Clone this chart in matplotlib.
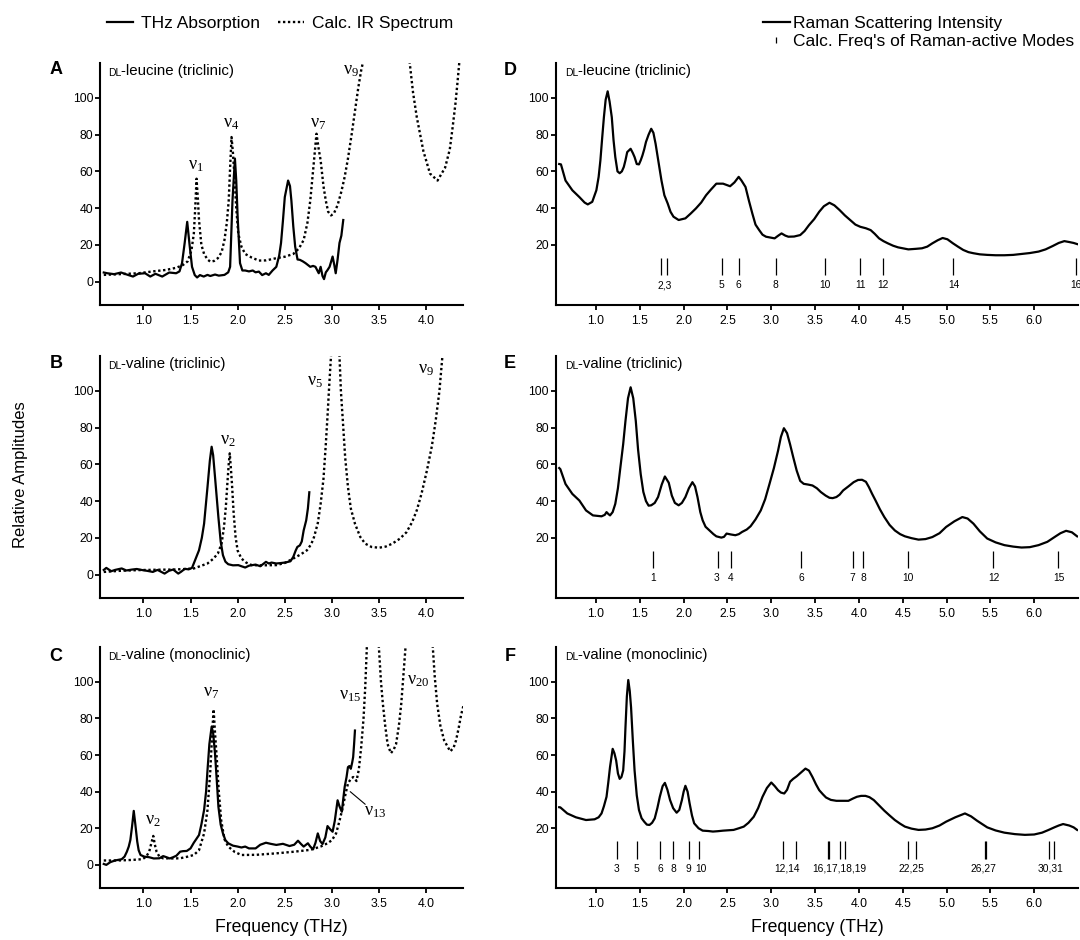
import numpy as np
import matplotlib
matplotlib.use("Agg")
import matplotlib.pyplot as plt
from matplotlib.lines import Line2D

nan = float("nan")

# --- panel A: DL-leucine (triclinic), THz absorption + calc. IR ---------------
A_THZ_X = [0.58, 0.617, 0.69, 0.763, 0.836, 0.89, 0.945, 1.018, 1.073, 1.128,
           1.2, 1.274, 1.347, 1.383, 1.41, 1.438, 1.465, 1.49, 1.516, 1.545,
           1.57, 1.60, 1.64, 1.68, 1.71, 1.76, 1.80, 1.86, 1.90, 1.92,
           1.945, 1.971, 1.985, 2.0, 2.025, 2.05, 2.08, 2.12, 2.16, 2.19,
           2.225, 2.26, 2.30, 2.33, 2.37, 2.41, 2.44, 2.46, 2.48, 2.50,
           2.535, 2.555, 2.57, 2.59, 2.61, 2.635, 2.66, 2.69, 2.72, 2.745,
           2.77, 2.80, 2.825, 2.845, 2.86, 2.88, 2.90, 2.916, 2.935, 2.95,
           2.975, 3.007, 3.025, 3.04, 3.06, 3.08, 3.10, 3.12]
A_THZ_Y = [4.9, 4.5, 4.0, 4.9, 3.6, 2.7, 4.2, 4.5, 2.7, 4.2,
           2.7, 4.9, 4.5, 5.5, 10, 21, 32.5, 20, 8, 3.5,
           2.2, 3.5, 2.7, 3.6, 3.0, 3.8, 3.2, 3.6, 5, 8,
           44, 67, 55, 35, 10, 6, 6, 5.5, 6, 5,
           5.4, 3.5, 4.5, 3.6, 6, 8, 14, 21, 33, 46,
           55, 52, 44, 30, 19, 12, 11.8, 11, 10, 9,
           8, 8.5, 8, 6, 4.5, 8, 3, 1.3, 5, 6,
           8, 13.6, 9, 4.5, 12, 21, 25, 33.5]
A_IR_X = [0.58, 0.75, 0.95, 1.10, 1.24, 1.35, 1.42, 1.47, 1.51, 1.535,
          1.55, 1.564, 1.578, 1.59, 1.615, 1.644, 1.68, 1.71, 1.75, 1.79,
          1.83, 1.86, 1.885, 1.905, 1.92, 1.935, 1.95, 1.964, 1.985, 2.007,
          2.04, 2.08, 2.15, 2.225, 2.30, 2.41, 2.50, 2.59, 2.65, 2.70,
          2.74, 2.77, 2.79, 2.81, 2.836, 2.86, 2.88, 2.91, 2.935, 2.96,
          2.99, 3.02, 3.06, 3.10, 3.135, 3.17, 3.21, 3.25, 3.28, 3.31,
          3.34, 3.36, nan, 3.80, 3.825, 3.86, 3.90, 3.97, 4.04, 4.12,
          4.2, 4.25, 4.28, 4.31, 4.33, 4.35, 4.37]
A_IR_Y = [3.6, 4.0, 4.5, 5.5, 6.3, 7.5, 9, 11, 17, 26,
          40, 56, 45, 33.5, 20, 15, 12, 10.8, 11.2, 12.7,
          16, 22.6, 32, 44, 62, 78.7, 70, 59, 40, 26,
          19, 15, 13, 11.4, 11.5, 12.7, 13.5, 15, 18, 22.6,
          32, 44, 55, 66, 80.5, 72, 66, 52, 44, 38,
          36, 37, 41.6, 49, 57, 67, 80.5, 95, 105.8, 115,
          122, 128, nan, 128, 119, 103, 89.5, 71, 58.8, 55,
          62, 72, 84, 97, 107.6, 119, 128]

# --- panel B: DL-valine (triclinic) -------------------------------------------
B_THZ_X = [0.58, 0.607, 0.66, 0.70, 0.77, 0.82, 0.88, 0.93, 0.99, 1.04,
           1.10, 1.15, 1.225, 1.27, 1.316, 1.37, 1.40, 1.44, 1.48, 1.516,
           1.55, 1.59, 1.62, 1.644, 1.68, 1.705, 1.724, 1.74, 1.76, 1.796,
           1.82, 1.844, 1.87, 1.90, 1.95, 2.007, 2.04, 2.08, 2.12, 2.19,
           2.24, 2.30, 2.33, 2.36, 2.41, 2.45, 2.50, 2.535, 2.56, 2.59,
           2.615, 2.633, 2.66, 2.68, 2.70, 2.727, 2.745, 2.76]
B_THZ_Y = [2.5, 3.6, 1.8, 2.5, 3.3, 2.2, 2.7, 3.0, 2.4, 2.0,
           1.4, 2.5, 0.5, 2.0, 2.7, 0.5, 1.5, 3.1, 2.8, 3.6,
           8, 13.2, 20, 27.7, 47.6, 62, 69.6, 65, 53, 31,
           18, 10.5, 7, 5.6, 5.0, 5.1, 4.5, 3.8, 4.8, 5.4,
           4.5, 6.9, 6, 6.5, 6.0, 6.2, 6.5, 6.9, 7.2, 9.6,
           13, 15, 15.9, 18, 24, 29.5, 36, 44.8]
B_IR_X = [0.58, 0.75, 0.95, 1.15, 1.316, 1.45, 1.535, 1.60, 1.68, 1.74,
          1.79, 1.83, 1.855, 1.875, 1.89, 1.905, 1.916, 1.928, 1.94, 1.958,
          1.978, 2.0, 2.04, 2.09, 2.15, 2.25, 2.41, 2.50, 2.59, 2.67,
          2.735, 2.78, 2.81, 2.85, 2.88, 2.91, 2.935, 2.955, 2.97, 2.99,
          3.00, nan, 3.07, 3.08, 3.095, 3.116, 3.14, 3.17, 3.20, 3.244,
          3.30, 3.353, 3.42, 3.50, 3.57, 3.64, 3.72, 3.79, 3.85, 3.90,
          3.95, 4.007, 4.06, 4.10, 4.14, 4.17, 4.19]
B_IR_Y = [1.4, 2.0, 2.4, 2.6, 2.7, 3.0, 3.3, 4.5, 6, 8.5,
          11.4, 17, 25.9, 37, 49, 60, 66, 58, 49, 33,
          20.4, 13, 8.7, 6.5, 5.1, 5.0, 5.1, 6.3, 8.7, 11,
          13.2, 16.5, 20.4, 28, 38.5, 52, 71, 88, 102, 119,
          128, nan, 128, 119, 100, 83.4, 64, 47.6, 36, 27.7,
          20.5, 16.8, 15, 14.6, 15.2, 16.8, 19.5, 23, 28.5, 35,
          44, 56.6, 70, 83.7, 100, 118, 128]

# --- panel C: DL-valine (monoclinic) ------------------------------------------
C_THZ_X = [0.58, 0.607, 0.65, 0.70, 0.77, 0.80, 0.825, 0.845, 0.862, 0.88,
           0.898, 0.915, 0.935, 0.95, 0.97, 1.01, 1.06, 1.11, 1.17, 1.21,
           1.244, 1.28, 1.316, 1.35, 1.39, 1.42, 1.46, 1.50, 1.535, 1.56,
           1.59, 1.615, 1.644, 1.665, 1.68, 1.70, 1.724, 1.74, 1.76, 1.78,
           1.796, 1.82, 1.844, 1.87, 1.90, 1.95, 2.0, 2.04, 2.08, 2.12,
           2.19, 2.24, 2.30, 2.35, 2.41, 2.48, 2.55, 2.60, 2.64, 2.67,
           2.70, 2.745, 2.77, 2.80, 2.825, 2.85, 2.875, 2.90, 2.93, 2.953,
           2.98, 3.007, 3.03, 3.06, 3.08, 3.105, 3.12, 3.135, 3.155, 3.17,
           3.185, 3.20, 3.215, 3.225, 3.235, 3.244]
C_THZ_Y = [0.5, 0.0, 1.5, 2.4, 3.1, 4.5, 7.2, 10, 13.6, 21,
           29.5, 22, 12.7, 8, 5.4, 4.5, 4.2, 3.5, 3.6, 4.8,
           4.2, 3.5, 4.2, 5, 7.2, 7.5, 7.6, 9, 12.1, 14,
           16.3, 22, 30, 40, 51.6, 66, 75.5, 72, 60.7, 45,
           31.7, 22, 17.2, 13.5, 11.8, 10.5, 10, 9.5, 10, 9,
           9, 11, 12.1, 11.5, 10.9, 11.5, 10.3, 11, 13.2, 11.5,
           10, 11.8, 10, 8.5, 12, 17.2, 13, 11.4, 15, 21.2,
           19.5, 18.1, 24, 35.3, 32, 29, 36, 42.6, 48, 53.4,
           54, 52.5, 56, 58.9, 66, 73.4]
C_IR_X = [0.58, 0.735, 0.88, 0.99, 1.03, 1.062, 1.085, 1.105, 1.122, 1.14,
          1.17, 1.207, 1.30, 1.39, 1.47, 1.535, 1.59, 1.644, 1.68, 1.71,
          1.73, 1.745, 1.76, 1.78, 1.80, 1.825, 1.86, 1.90, 1.97, 2.04,
          2.20, 2.41, 2.60, 2.77, 2.88, 2.953, 3.00, 3.044, 3.08, 3.116,
          3.145, 3.17, 3.20, 3.225, 3.245, 3.26, 3.285, 3.31, 3.335, 3.353,
          3.37, 3.385, nan, 3.485, 3.498, 3.52, 3.54, 3.565, 3.59, 3.625,
          3.655, 3.68, 3.71, 3.735, 3.76, 3.78, 3.795, nan, 4.055, 4.07,
          4.09, 4.116, 4.15, 4.19, 4.255, 4.29, 4.316, 4.345, 4.37, 4.40]
C_IR_Y = [2.4, 2.4, 2.7, 3.1, 4.5, 7.2, 12, 15.8, 11, 7.2,
          4.5, 3.6, 3.5, 3.6, 4.5, 5.4, 8, 17.2, 30, 51.6,
          72, 85, 72, 57, 40, 24.5, 14, 10, 7, 5.4,
          5.5, 6.3, 7.2, 8.2, 10, 11.8, 13.5, 17.2, 24, 31.7,
          39, 44.4, 47, 48, 47, 45.8, 52, 64.3, 80, 97,
          118.7, 128, nan, 128, 118.7, 100, 88, 76, 66, 61,
          63, 66, 76, 88, 105, 118.7, 128, nan, 128, 118.7,
          103, 88, 76, 68, 62, 64, 68, 75, 82, 88]

# --- panels D-F: Raman scattering intensity -----------------------------------
D_RAMAN_X = [0.58, 0.60, 0.652, 0.73, 0.81, 0.87, 0.906, 0.957, 1.004, 1.03,
             1.05, 1.07, 1.09, 1.11, 1.133, 1.155, 1.18, 1.20, 1.22, 1.245,
             1.27, 1.295, 1.317, 1.336, 1.356, 1.395, 1.42, 1.44, 1.465, 1.49,
             1.51, 1.53, 1.55, 1.57, 1.60, 1.63, 1.655, 1.68, 1.71, 1.747,
             1.78, 1.818, 1.85, 1.884, 1.943, 2.02, 2.08, 2.14, 2.20, 2.256,
             2.31, 2.373, 2.45, 2.53, 2.58, 2.628, 2.66, 2.706, 2.745, 2.784,
             2.82, 2.862, 2.90, 2.94, 3.038, 3.08, 3.117, 3.16, 3.195, 3.26,
             3.33, 3.38, 3.43, 3.49, 3.547, 3.60, 3.664, 3.72, 3.78, 3.84,
             3.90, 3.96, 4.016, 4.08, 4.134, 4.18, 4.23, 4.28, 4.33, 4.39,
             4.447, 4.564, 4.65, 4.72, 4.78, 4.838, 4.90, 4.955, 5.01, 5.073,
             5.13, 5.19, 5.25, 5.307, 5.38, 5.464, 5.56, 5.66, 5.76, 5.855,
             5.95, 6.05, 6.13, 6.21, 6.28, 6.344, 6.40, 6.45, 6.49]
D_RAMAN_Y = [64, 63.8, 55, 49.7, 46, 43, 42, 43.4, 49.7, 57,
             66, 78, 89.5, 99, 103.6, 98, 89.5, 77, 67.8, 60,
             59, 60, 62.4, 66, 70.5, 72.3, 70, 67.8, 64, 63.8,
             66, 68.7, 72, 76, 80, 83.2, 81, 75, 66, 55,
             47, 42.5, 38, 35.3, 33.5, 34.4, 37, 39.8, 43, 47,
             50, 53.3, 53.3, 51.9, 54, 57, 55, 51.5, 44, 37,
             31, 28, 25.5, 24.4, 23.5, 25, 26.2, 25, 24.4, 24.5,
             25.3, 27.5, 30.7, 34, 38, 41, 42.9, 41.5, 38.9, 36,
             33.5, 31, 29.8, 29, 28, 26, 23.5, 22, 20.8, 19.5,
             18.6, 17.5, 17.8, 18.1, 19, 20.8, 22.5, 23.7, 23, 20.8,
             19, 17.2, 16, 15.4, 14.8, 14.5, 14.3, 14.3, 14.5, 15,
             15.5, 16.3, 17.5, 19.3, 21, 22, 21.5, 21, 20.4]
E_RAMAN_X = [0.58, 0.593, 0.652, 0.73, 0.81, 0.886, 0.965, 1.063, 1.10, 1.12,
             1.14, 1.16, 1.19, 1.22, 1.25, 1.278, 1.31, 1.336, 1.365, 1.395,
             1.425, 1.454, 1.48, 1.51, 1.54, 1.57, 1.60, 1.63, 1.67, 1.708,
             1.75, 1.786, 1.83, 1.865, 1.90, 1.943, 1.98, 2.02, 2.06, 2.10,
             2.13, 2.158, 2.19, 2.217, 2.25, 2.295, 2.34, 2.373, 2.43, 2.46,
             2.49, 2.54, 2.59, 2.63, 2.667, 2.72, 2.764, 2.82, 2.88, 2.93,
             2.98, 3.03, 3.077, 3.11, 3.144, 3.18, 3.214, 3.25, 3.29, 3.33,
             3.37, 3.42, 3.47, 3.52, 3.566, 3.62, 3.664, 3.70, 3.743, 3.78,
             3.82, 3.88, 3.94, 3.99, 4.036, 4.08, 4.114, 4.15, 4.19, 4.24,
             4.29, 4.35, 4.41, 4.47, 4.525, 4.60, 4.68, 4.76, 4.838, 4.92,
             4.995, 5.09, 5.18, 5.24, 5.307, 5.38, 5.464, 5.56, 5.66, 5.76,
             5.855, 5.95, 6.05, 6.15, 6.245, 6.30, 6.364, 6.43, 6.49]
E_RAMAN_Y = [58, 57.4, 49.3, 43.9, 40.3, 34.9, 32.2, 31.7, 32.5, 34,
             33, 32.2, 34, 38.5, 47, 58.3, 71, 83.6, 96, 102,
             96, 83.6, 68, 54.7, 45, 40, 37.5, 37.7, 39, 42.2,
             49, 53.4, 50, 43, 39, 37.7, 39, 42.2, 47, 50.3,
             48, 42.2, 34, 29.5, 26, 24, 22, 20.8, 20.1, 20.5,
             22.3, 21.8, 21.4, 22, 23.2, 24.5, 26.3, 30, 34.9, 41,
             49.4, 58, 67.4, 75, 79.7, 77, 71, 64, 56.6, 51,
             49.4, 49, 48.5, 47, 44.9, 43, 41.8, 41.6, 42.2, 43.5,
             45.8, 48, 50.3, 51.5, 51.6, 50.5, 47.6, 44, 40.3, 35.5,
             31.3, 27, 24, 22, 20.8, 19.8, 19, 19.3, 20.4, 22.5,
             25.9, 29, 31.3, 30.5, 27.7, 23.5, 19.6, 17.5, 16, 15.2,
             14.7, 14.9, 16, 17.8, 20.8, 22.5, 23.8, 23, 20.8]
F_RAMAN_X = [0.58, 0.593, 0.672, 0.77, 0.886, 0.984, 1.03, 1.063, 1.09, 1.12,
             1.14, 1.16, 1.19, 1.21, 1.23, 1.25, 1.27, 1.29, 1.31, 1.325,
             1.336, 1.352, 1.368, 1.385, 1.40, 1.42, 1.44, 1.465, 1.49, 1.52,
             1.55, 1.58, 1.61, 1.64, 1.67, 1.70, 1.728, 1.76, 1.786, 1.815,
             1.845, 1.88, 1.92, 1.95, 1.98, 2.00, 2.02, 2.045, 2.068, 2.095,
             2.12, 2.17, 2.217, 2.28, 2.334, 2.39, 2.45, 2.51, 2.57, 2.63,
             2.686, 2.74, 2.80, 2.85, 2.90, 2.95, 3.0, 3.04, 3.077, 3.11,
             3.148, 3.18, 3.214, 3.25, 3.29, 3.34, 3.39, 3.43, 3.47, 3.51,
             3.547, 3.59, 3.625, 3.68, 3.743, 3.81, 3.88, 3.93, 3.977, 4.025,
             4.075, 4.12, 4.17, 4.23, 4.29, 4.35, 4.41, 4.47, 4.525, 4.60,
             4.68, 4.76, 4.838, 4.92, 4.995, 5.10, 5.21, 5.28, 5.346, 5.40,
             5.464, 5.56, 5.66, 5.78, 5.894, 6.0, 6.09, 6.16, 6.23, 6.28,
             6.33, 6.40, 6.45, 6.49]
F_RAMAN_Y = [31.5, 31.4, 28.1, 26, 24.5, 24.9, 26, 28.1, 32, 37.2,
             45, 53.5, 63.4, 61, 57, 50, 47, 48, 51.6, 62,
             75, 92, 101, 95, 86, 68, 51.6, 38, 30, 25.5,
             23.6, 22, 21.8, 23, 25.4, 31, 37.2, 43, 44.8, 41,
             35.4, 31, 28.5, 30, 35.4, 40, 43.2, 40, 33.6, 27,
             22.7, 20, 18.7, 18.5, 18.2, 18.4, 18.7, 18.9, 19.1, 20,
             20.9, 23, 26.3, 31, 37.2, 42, 45, 43, 40.8, 39.5,
             39, 41, 45.4, 47, 48.4, 50.5, 52.6, 51.5, 48, 44,
             40.8, 38.5, 36.8, 35.5, 35, 35, 35, 36.2, 37.2, 37.7,
             37.7, 37, 35.4, 32.5, 29.6, 27, 24.5, 22.5, 20.9, 19.8,
             19.1, 19.3, 20, 21.5, 23.6, 26, 28.1, 26.5, 24.2, 22.5,
             20.5, 18.8, 17.6, 16.8, 16.4, 16.6, 17.6, 19, 20.5, 21.5,
             22.3, 21.5, 20.5, 19.1]

# calculated frequencies of Raman-active modes (THz) and their labels
D_MODES = [1.747, 1.806, 2.432, 2.628, 3.05, 3.61, 4.016, 4.27, 5.073, 6.473]
D_MODE_LABELS = ["2,3", "5", "6", "8", "10", "11", "12", "14", "16"]
D_LABEL_X = [1.778, 2.432, 2.628, 3.05, 3.61, 4.02, 4.275, 5.085, 6.473]
E_MODES = [1.65, 2.393, 2.538, 3.343, 3.93, 4.044, 4.556, 5.534, 6.274]
E_MODE_LABELS = ["1", "3", "4", "6", "7", "8", "10", "12", "15"]
E_LABEL_X = [1.65, 2.38, 2.54, 3.34, 3.92, 4.05, 4.556, 5.542, 6.278]
F_MODES = [1.239, 1.466, 1.73, 1.876, 2.06, 2.174, 3.136, 3.285, 3.645, 3.662,
           3.786, 3.844, 4.556, 4.654, 5.444, 5.452, 6.168, 6.227]
F_MODE_LABELS = ["3", "5", "6", "8", "9", "10", "12,14", "16,17,18,19",
                 "22,25", "26,27", "30,31"]
F_LABEL_X = [1.239, 1.466, 1.73, 1.884, 2.052, 2.2, 3.183, 3.78, 4.6, 5.425, 6.188]

# mode annotations on the THz panels: (x, y, subscript)
A_NU = [(1.553, 63.3, "1"), (1.927, 86.3, "4"), (2.85, 86.3, "7"), (3.205, 114.8, "9")]
B_NU = [(1.898, 72.9, "2"), (2.825, 105.4, "5"), (4.0, 111.8, "9")]
C_NU = [(1.724, 94.2, "7"), (1.105, 24.5, "2"), (3.189, 92.4, "15"), (3.916, 100.9, "20"),
        (3.46, 29.1, "13")]

LEFT_XTICKS = [1.0, 1.5, 2.0, 2.5, 3.0, 3.5, 4.0]
RIGHT_XTICKS = [1.0, 1.5, 2.0, 2.5, 3.0, 3.5, 4.0, 4.5, 5.0, 5.5, 6.0]

plt.rcParams["font.family"] = ["Liberation Sans", "DejaVu Sans"]
plt.rcParams["mathtext.fontset"] = "custom"
plt.rcParams["mathtext.rm"] = "Liberation Serif"
plt.rcParams["mathtext.it"] = "Liberation Serif:italic"

W, H = 1080, 940
fig = plt.figure(figsize=(W / 100, H / 100), dpi=100)


def px_axes(x0, y0, x1, y1):
    """Axes placed by pixel box (top-left origin)."""
    return fig.add_axes([x0 / W, 1 - y1 / H, (x1 - x0) / W, (y1 - y0) / H])


def style(ax, xmax, xticks, yticks):
    ax.set_xlim(0.54, xmax)
    ax.set_ylim(-12.8, 119.2)
    for s in ("top", "right"):
        ax.spines[s].set_visible(False)
    for s in ("left", "bottom"):
        ax.spines[s].set_linewidth(1.5)
    ax.set_xticks(xticks)
    ax.set_xticklabels([f"{t:.1f}" for t in xticks])
    ax.set_yticks(yticks)
    ax.tick_params(width=1.3, length=3.6, labelsize=8.8)
    ax.tick_params(axis="y", pad=1.2)
    ax.tick_params(axis="x", pad=3.5)


def sample(ax, name, xfrac):
    t = ax.text(xfrac, 0.945, "DL", transform=ax.transAxes, fontsize=7.5, va="baseline")
    ax.annotate(name, xy=(1, 0), xycoords=t, fontsize=10.8, va="bottom")


def nu(ax, marks):
    for x, y, sub in marks:
        ax.text(x, y, rf"$\mathrm{{\nu_{{{sub}}}}}$", ha="center", va="center", fontsize=13)


DOT = (0, (1, 1.1))
rows = [(62.7, 305.0), (355.7, 598.0), (646.7, 888.3)]

# left column: THz absorption vs calculated IR
left = [(A_THZ_X, A_THZ_Y, A_IR_X, A_IR_Y, "-leucine (triclinic)", A_NU),
        (B_THZ_X, B_THZ_Y, B_IR_X, B_IR_Y, "-valine (triclinic)", B_NU),
        (C_THZ_X, C_THZ_Y, C_IR_X, C_IR_Y, "-valine (monoclinic)", C_NU)]
left_axes = []
for (y0, y1), (tx, ty, ix, iy, name, marks) in zip(rows, left):
    ax = px_axes(100, y0, 463, y1)
    style(ax, 4.39, LEFT_XTICKS, [0, 20, 40, 60, 80, 100])
    ax.plot(ix, iy, color="k", lw=1.7, ls=DOT, dash_capstyle="butt")
    ax.plot(tx, ty, color="k", lw=1.6)
    sample(ax, name, 0.022)
    nu(ax, marks)
    left_axes.append(ax)

# pointer for nu_13 in panel C
left_axes[2].annotate("", xy=(3.194, 40.0), xytext=(3.353, 33.1),
                      arrowprops=dict(arrowstyle="-", lw=0.8, color="k",
                                      shrinkA=0, shrinkB=0))

# right column: Raman spectra + calculated mode frequencies
right = [(D_RAMAN_X, D_RAMAN_Y, D_MODES, D_MODE_LABELS, D_LABEL_X, "-leucine (triclinic)"),
         (E_RAMAN_X, E_RAMAN_Y, E_MODES, E_MODE_LABELS, E_LABEL_X, "-valine (triclinic)"),
         (F_RAMAN_X, F_RAMAN_Y, F_MODES, F_MODE_LABELS, F_LABEL_X, "-valine (monoclinic)")]
for (y0, y1), (rx, ry, modes, labs, labx, name) in zip(rows, right):
    ax = px_axes(555.7, y0, 1078, y1)
    style(ax, 6.5, RIGHT_XTICKS, [20, 40, 60, 80, 100])
    ax.plot(rx, ry, color="k", lw=1.6)
    ax.vlines(modes, 3.3, 13.0, color="k", lw=0.9)
    for x, lab in zip(labx, labs):
        ax.text(x, -2.0, lab, ha="center", va="center", fontsize=7.4, clip_on=False)
    sample(ax, name, 0.018)

# panel letters, axis titles
for lab, (x, y) in zip("ABCDEF", [(56.5, 69.5), (56.5, 363), (55.5, 656.5),
                                  (510, 70.5), (510, 363), (510, 656.5)]):
    fig.text(x / W, 1 - y / H, lab, ha="center", va="center", fontsize=13, fontweight="bold")
fig.text(281.5 / W, 1 - 928 / H, "Frequency (THz)", ha="center", va="center", fontsize=12.7)
fig.text(817 / W, 1 - 928 / H, "Frequency (THz)", ha="center", va="center", fontsize=12.7)
fig.text(20.7 / W, 1 - 475 / H, "Relative Amplitudes", rotation=90, ha="center",
         va="center", fontsize=12)

# legends
fig.legend([Line2D([], [], color="k", lw=1.6),
            Line2D([], [], color="k", lw=1.7, ls=DOT, dash_capstyle="butt")],
           ["THz Absorption", "Calc. IR Spectrum"], ncol=2, loc="center left",
           bbox_to_anchor=(107 / W, 1 - 23.5 / H), frameon=False, borderpad=0,
           borderaxespad=0, fontsize=12.5, handlelength=1.5, handletextpad=0.45,
           columnspacing=1.05)
fig.legend([Line2D([], [], color="k", lw=1.6),
            Line2D([], [], ls="none", marker="|", color="k", ms=5, mew=0.9)],
           ["Raman Scattering Intensity", "Calc. Freq's of Raman-active Modes"],
           loc="upper left", bbox_to_anchor=(763 / W, 1 - 15.5 / H), frameon=False,
           borderpad=0, borderaxespad=0, fontsize=12.5, handlelength=1.55,
           handletextpad=0.17, labelspacing=0.18)

fig.savefig("out.png", dpi=100)
